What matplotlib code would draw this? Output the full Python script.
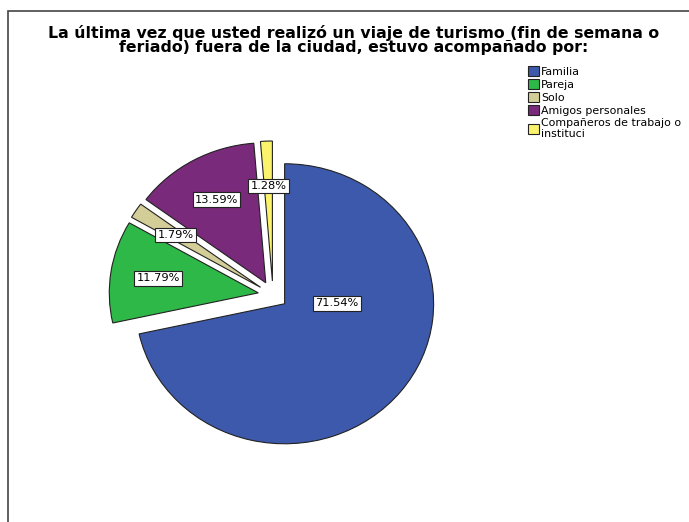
import matplotlib
matplotlib.use("Agg")
import matplotlib.pyplot as plt
import matplotlib.patches as mpatches
import numpy as np

# datos
categorias = ["Familia", "Pareja", "Solo", "Amigos personales",
              "Compañeros de trabajo o\ninstituci"]
porcentajes = [71.54, 11.79, 1.79, 13.59, 1.28]
colores = ["#3D59AB", "#2EB848", "#D3CE97", "#7A2A7A", "#FBF36C"]
explotar = [0.1, 0.1, 0.1, 0.1, 0.1]

titulo = ("La última vez que usted realizó un viaje de turismo (fin de semana o\n"
          "feriado) fuera de la ciudad, estuvo acompañado por:")

W, H = 689, 522
fig = plt.figure(figsize=(W / 100, H / 100), dpi=100)

# marco del grafico (borde izquierdo y superior)
marco = mpatches.Rectangle((8 / W, -0.1), 1.2, 1.1 - 10.5 / H,
                           transform=fig.transFigure, fill=False,
                           edgecolor="#444444", linewidth=1.2)
fig.patches.append(marco)

fig.text(0.513, 1 - 40 / H, titulo, ha="center", va="center",
         fontsize=11.3, fontweight="bold", linespacing=0.94)

# ejes del pie, un poco estirado en horizontal como en SPSS
cx, cy = 273, H - 295
sx, sy = 149, 140
ax = fig.add_axes([(cx - 1.5 * sx) / W, (cy - 1.5 * sy) / H,
                   3 * sx / W, 3 * sy / H])

wedges, textos, autotextos = ax.pie(
    porcentajes, colors=colores, explode=explotar, startangle=90,
    counterclock=False, autopct="%.2f%%", pctdistance=0.68,
    wedgeprops=dict(edgecolor="#222222", linewidth=0.8),
    textprops=dict(fontsize=8.2))

ax.set_aspect("auto")
ax.set_xlim(-1.5, 1.5)
ax.set_ylim(-1.5, 1.5)

for t, v in zip(autotextos, porcentajes):
    t.set_text("%.2f%%" % v)
    t.set_bbox(dict(boxstyle="square,pad=0.2", facecolor="white",
                    edgecolor="#222222", linewidth=0.8))
# la etiqueta de Familia va mas al centro
autotextos[0].set_position((0.43, -0.06))

leg = fig.legend(wedges, categorias, loc="upper left",
                 bbox_to_anchor=(524 / W, 1 - 62 / H),
                 frameon=False, fontsize=7.9, handlelength=1.0,
                 handleheight=1.0, handletextpad=0.15, labelspacing=0.2,
                 borderaxespad=0)
for h in leg.legend_handles:
    h.set_linewidth(0.8)

fig.savefig("out.png", dpi=100, facecolor="white")
